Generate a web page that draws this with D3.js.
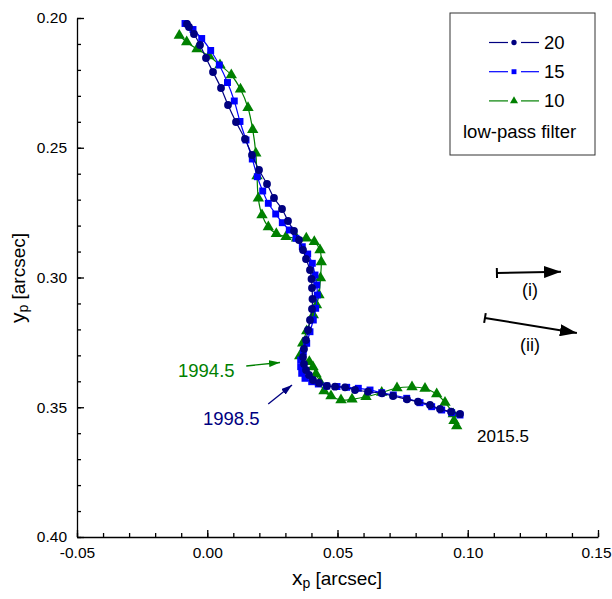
<!DOCTYPE html>
<html><head><meta charset="utf-8">
<script src="https://cdn.jsdelivr.net/npm/d3@7"></script>
<style>body{margin:0;background:#fff}svg{display:block;font-family:"Liberation Sans",Arial,sans-serif}</style>
</head><body><svg id="c" width="612" height="599"></svg>
<script>
// ---- data (arcsec) ----
const series20X = [-0.00777,-0.00701,-0.00509,-0.00278,-0.00048,0.00221,0.00528,0.00797,0.01104,0.01449,0.01718,0.01987,0.02294,0.02562,0.02870,0.03100,0.03330,0.03522,0.03676,0.03791,0.03944,0.04002,0.04021,0.04040,0.04021,0.03944,0.03868,0.03791,0.03714,0.03676,0.03714,0.03791,0.03906,0.04060,0.04290,0.04597,0.04904,0.05288,0.05672,0.06171,0.06708,0.07131,0.07668,0.08090,0.08551,0.08935,0.09357,0.09703];
const series20Y = [0.20231,0.20347,0.20617,0.21040,0.21541,0.22081,0.22698,0.23353,0.24008,0.24663,0.25279,0.25857,0.26397,0.26936,0.27360,0.27823,0.28208,0.28555,0.28940,0.29287,0.29711,0.30058,0.30405,0.30829,0.31214,0.31638,0.32023,0.32409,0.32755,0.33064,0.33333,0.33565,0.33757,0.33950,0.34066,0.34181,0.34208,0.34231,0.34336,0.34401,0.34463,0.34567,0.34694,0.34786,0.34913,0.35068,0.35172,0.35260];
const series15X = [-0.00854,-0.00547,-0.00213,0.00132,0.00463,0.00777,0.01038,0.01257,0.01488,0.01729,0.01921,0.02129,0.02344,0.02628,0.02881,0.03150,0.03407,0.03649,0.03856,0.04033,0.04136,0.04202,0.04225,0.04163,0.04071,0.03944,0.03818,0.03687,0.03587,0.03587,0.03626,0.03752,0.04010,0.04263,0.04585,0.04981,0.05353,0.05799,0.06248,0.06697,0.07142,0.07657,0.08167,0.08616,0.09000,0.09384,0.09703];
const series15Y = [0.20212,0.20443,0.20790,0.21252,0.21811,0.22486,0.23198,0.23988,0.24701,0.25434,0.26116,0.26667,0.27141,0.27553,0.27888,0.28170,0.28490,0.28813,0.29095,0.29453,0.29904,0.30289,0.30674,0.31187,0.31638,0.32089,0.32536,0.32859,0.33179,0.33437,0.33692,0.33885,0.34016,0.34104,0.34181,0.34201,0.34231,0.34270,0.34336,0.34440,0.34529,0.34655,0.34825,0.34979,0.35106,0.35210,0.35299];
const series10X = [-0.01073,-0.00789,-0.00393,0.00067,0.00489,0.00923,0.01276,0.01564,0.01745,0.01864,0.01910,0.01960,0.02102,0.02344,0.02651,0.03023,0.03426,0.03802,0.04109,0.04328,0.04378,0.04347,0.04290,0.04194,0.04071,0.03818,0.03664,0.03549,0.03918,0.04060,0.04175,0.04328,0.04482,0.04750,0.05134,0.05557,0.06094,0.06697,0.07284,0.07860,0.08359,0.08808,0.09127,0.09445,0.09472,0.09576];
const series10Y = [0.20674,0.20925,0.21195,0.21464,0.21811,0.22197,0.22748,0.23457,0.24305,0.25214,0.26089,0.26948,0.27592,0.28054,0.28312,0.28428,0.28490,0.28490,0.28621,0.28940,0.29403,0.30020,0.30674,0.31060,0.31445,0.32062,0.32536,0.33025,0.33245,0.33449,0.33719,0.34027,0.34374,0.34567,0.34721,0.34694,0.34594,0.34432,0.34258,0.34220,0.34278,0.34490,0.34817,0.35260,0.35518,0.35722];
const seriesNames = ["20","15","10"];
const xTickValues = [-0.05,0.00,0.05,0.10,0.15];
const yTickValues = [0.20,0.25,0.30,0.35,0.40];
const xTickLabels = ["-0.05","0.00","0.05","0.10","0.15"];
const yTickLabels = ["0.20","0.25","0.30","0.35","0.40"];
const xMinor = d3.range(-5,16).map(i=>i/100);
const yMinor = d3.range(20,41).map(i=>i/100);
// annotations in data units
const arrowI  = [[0.1112,0.29827],[0.1358,0.29777]];
const arrowII = [[0.1066,0.31561],[0.1419,0.32139]];
const arrow1994 = [[0.01497,0.33410],[0.02793,0.33275]];
const arrow1998 = [[0.02341,0.34875],[0.03254,0.34143]];

const svg = d3.select("#c");
const x = d3.scaleLinear().domain([-0.05,0.15]).range([77,598]);
const y = d3.scaleLinear().domain([0.20,0.40]).range([18,537]);

// axes
const fmtX = (d)=>xTickLabels[xTickValues.findIndex(v=>Math.abs(v-d)<1e-9)];
const fmtY = (d)=>yTickLabels[yTickValues.findIndex(v=>Math.abs(v-d)<1e-9)];
const gx = svg.append("g").attr("transform","translate(0,537)")
  .call(d3.axisBottom(x).tickValues(xTickValues).tickFormat(fmtX).tickSizeInner(-7).tickSizeOuter(0).tickPadding(10));
svg.append("g").attr("transform","translate(0,537)")
  .call(d3.axisBottom(x).tickValues(xMinor).tickFormat("").tickSizeInner(-4).tickSizeOuter(0))
  .call(g=>g.select(".domain").remove());
const gy = svg.append("g").attr("transform","translate(77,0)")
  .call(d3.axisLeft(y).tickValues(yTickValues).tickFormat(fmtY).tickSizeInner(-7).tickSizeOuter(0).tickPadding(10));
svg.append("g").attr("transform","translate(77,0)")
  .call(d3.axisLeft(y).tickValues(yMinor).tickFormat("").tickSizeInner(-4).tickSizeOuter(0))
  .call(g=>g.select(".domain").remove());
svg.selectAll(".tick text").attr("font-size",15.5).attr("font-family","Liberation Sans, Arial, sans-serif").attr("fill","#000");
gx.selectAll(".tick text").filter(d=>d>0.14).attr("dx",-2);
svg.selectAll(".domain, .tick line").attr("stroke","#000").attr("stroke-width",1.3);

// axis titles
const xt = svg.append("text").attr("x",337).attr("y",585).attr("text-anchor","middle").attr("fill","#000");
xt.append("tspan").attr("font-size",21).text("x");
xt.append("tspan").attr("font-size",14).attr("dy",3).text("p");
xt.append("tspan").attr("font-size",19).attr("dy",-3).text(" [arcsec]");
const yt = svg.append("text").attr("transform","translate(25,278) rotate(-90)").attr("text-anchor","middle").attr("fill","#000");
yt.append("tspan").attr("font-size",21).text("y");
yt.append("tspan").attr("font-size",14).attr("dy",3).text("p");
yt.append("tspan").attr("font-size",19).attr("dy",-3).text(" [arcsec]");

// series
const series = [
  {name:"10", xs:series10X, ys:series10Y, color:"#008000", sym:d3.symbolTriangle, size:56},
  {name:"15", xs:series15X, ys:series15Y, color:"#0000ff", sym:d3.symbolSquare, size:48},
  {name:"20", xs:series20X, ys:series20Y, color:"#000080", sym:d3.symbolCircle, size:48},
];
const line = d3.line().x(d=>x(d[0])).y(d=>y(d[1])).curve(d3.curveCatmullRom);
series.forEach(s=>{
  const pts = s.xs.map((v,i)=>[v,s.ys[i]]);
  svg.append("path").attr("d",line(pts)).attr("fill","none").attr("stroke",s.color).attr("stroke-width",1.2);
  svg.append("g").selectAll("path").data(pts).join("path")
    .attr("transform",d=>`translate(${x(d[0])},${y(d[1])})`)
    .attr("d",d3.symbol(s.sym,s.size)).attr("fill",s.color);
});

// arrow heads
const defs = svg.append("defs");
function marker(id,color,w,h){
  defs.append("marker").attr("id",id).attr("viewBox",`0 0 ${w} ${h}`).attr("refX",w).attr("refY",h/2)
    .attr("markerUnits","userSpaceOnUse").attr("markerWidth",w).attr("markerHeight",h).attr("orient","auto")
    .append("path").attr("d",`M0,0L${w},${h/2}L0,${h}Z`).attr("fill",color);
}
marker("hk","#000",17,12);
marker("hg","#008000",11,7);
marker("hn","#000080",11,7);
function arrow(a,color,mk,sw,bar){
  svg.append("line").attr("x1",x(a[0][0])).attr("y1",y(a[0][1])).attr("x2",x(a[1][0])).attr("y2",y(a[1][1]))
    .attr("stroke",color).attr("stroke-width",sw).attr("marker-end",`url(#${mk})`);
  if(bar){
    const dx=x(a[1][0])-x(a[0][0]), dy=y(a[1][1])-y(a[0][1]), L=Math.hypot(dx,dy);
    const nx=-dy/L*5, ny=dx/L*5;
    svg.append("line").attr("x1",x(a[0][0])+nx).attr("y1",y(a[0][1])+ny).attr("x2",x(a[0][0])-nx).attr("y2",y(a[0][1])-ny)
      .attr("stroke",color).attr("stroke-width",sw);
  }
}
arrow(arrowI,"#000","hk",2,true);
arrow(arrowII,"#000","hk",2,true);
arrow(arrow1994,"#008000","hg",1.3,false);
arrow(arrow1998,"#000080","hn",1.3,false);

svg.append("text").attr("x",530).attr("y",296).attr("text-anchor","middle").attr("font-size",18).text("(i)");
svg.append("text").attr("x",530).attr("y",351).attr("text-anchor","middle").attr("font-size",18).text("(ii)");
svg.append("text").attr("x",178).attr("y",377).attr("font-size",18.5).attr("fill","#008000").text("1994.5");
svg.append("text").attr("x",203).attr("y",425).attr("font-size",18.5).attr("fill","#000080").text("1998.5");
svg.append("text").attr("x",477).attr("y",442).attr("font-size",17).attr("fill","#000").text("2015.5");

// legend
const lg = svg.append("g");
lg.append("rect").attr("x",450).attr("y",13).attr("width",145).attr("height",142).attr("fill","#fff").attr("stroke","#333").attr("stroke-width",1);
const legendRows = [
  {name:seriesNames[0], color:"#000080", sym:d3.symbolCircle, size:22},
  {name:seriesNames[1], color:"#0000ff", sym:d3.symbolSquare, size:24},
  {name:seriesNames[2], color:"#008000", sym:d3.symbolTriangle, size:28},
];
legendRows.forEach((r,i)=>{
  const yy = 42.5 + i*29.2;
  lg.append("line").attr("x1",489).attr("x2",508).attr("y1",yy).attr("y2",yy).attr("stroke",r.color).attr("stroke-width",1.2);
  lg.append("line").attr("x1",521).attr("x2",539).attr("y1",yy).attr("y2",yy).attr("stroke",r.color).attr("stroke-width",1.2);
  lg.append("path").attr("transform",`translate(514,${yy})`).attr("d",d3.symbol(r.sym,r.size)).attr("fill",r.color);
  lg.append("text").attr("x",544).attr("y",yy+6.5).attr("font-size",18.5).attr("fill","#000").text(r.name);
});
lg.append("text").attr("x",463).attr("y",138).attr("font-size",18.5).attr("fill","#000").text("low-pass filter");
</script></body></html>
